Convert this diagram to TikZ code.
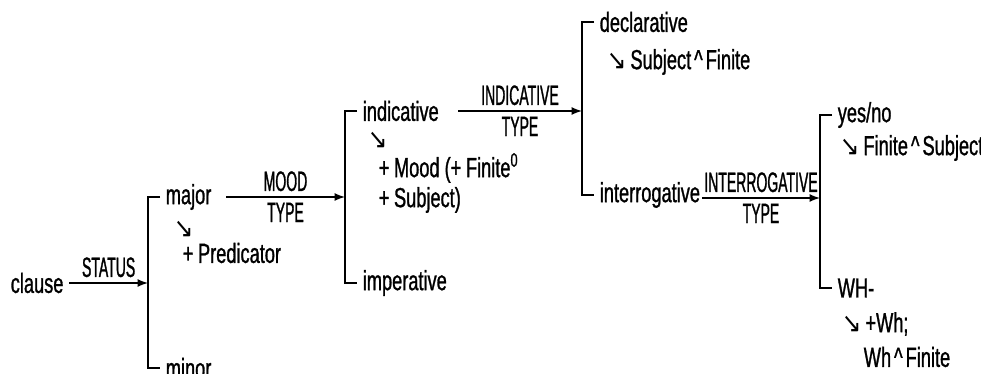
\documentclass[tikz,border=0pt]{standalone}
\usepackage{fontspec}
\setmainfont{Liberation Sans}[FakeStretch=0.66,FakeBold=1]
\newfontfamily\capfont{Liberation Sans}[FakeStretch=0.5,FakeBold=1]
\newfontfamily\arrfont{DejaVu Sans}[FakeStretch=0.85]
\newcommand{\dn}{{\arrfont ↘}\hspace{2pt}}
\newcommand{\cat}{\hspace{1.5pt}\textasciicircum\hspace{1.5pt}}
\begin{document}
\begin{tikzpicture}[>=latex,x=0.5pt,y=-0.5pt,line width=.8pt,
    every node/.style={inner sep=1pt,font=\fontsize{13.8}{15}\selectfont},
    term/.style={anchor=west,inner xsep=2.5pt},
    up/.style={midway,above=1.5pt,font=\fontsize{14}{15}\capfont},
    dw/.style={midway,below=1.5pt,font=\fontsize{14}{15}\capfont}]
\useasboundingbox (0,0) rectangle (981,374);
% clause -> status
\node[term] (clause) at (5,283) {clause};
\coordinate (s1) at (148,283);
\draw[->] (clause) -- (s1) node[up]{STATUS};
\node[term] (major) at (160,197) {major};
\node[term] (minor) at (160,368) {minor};
\draw (major.west) -| (s1) |- (minor.west);
\node[term] (majarr) at (168,229) {\dn};
\node[term] (pred) at (177,253) {+\,Predicator};
% mood type
\coordinate (m0) at (226,197);
\coordinate (s2) at (345,197);
\draw[->] (m0) -- (s2) node[up]{MOOD} node[dw]{TYPE};
\node[term] (ind) at (357,111) {indicative};
\node[term] (imp) at (357,283) {imperative};
\draw (ind.west) -| (s2) |- (imp.west);
\node[term] (indarr) at (362,140) {\dn};
\node[term] (moodf) at (373,168) {+\,Mood (+\,Finite\textsuperscript{0}};
\node[term] (subj) at (373,200) {+\,Subject)};
% indicative type
\coordinate (i0) at (458,111);
\coordinate (s3) at (582,111);
\draw[->] (i0) -- (s3) node[up]{INDICATIVE} node[dw]{TYPE};
\node[term] (decl) at (594,22) {declarative};
\node[term] (inter) at (594,195) {interrogative};
\draw (decl.west) -| (s3) |- (inter.west);
\node[term] (declr) at (601,62) {\dn Subject\cat Finite};
% interrogative type
\coordinate (q0) at (702,198);
\coordinate (s4) at (820,198);
\draw[->] (q0) -- (s4) node[up]{INTERROGATIVE} node[dw]{TYPE};
\node[term] (yn) at (832,115) {yes/no};
\node[term] (wh) at (832,288) {WH-};
\draw (yn.west) -| (s4) |- (wh.west);
\node[term] (ynr) at (834,148) {\dn Finite\cat Subject};
\node[term] (whr) at (836,324) {\dn +Wh;};
\node[term] (whf) at (858,357) {Wh\cat Finite};
\end{tikzpicture}
\end{document}
